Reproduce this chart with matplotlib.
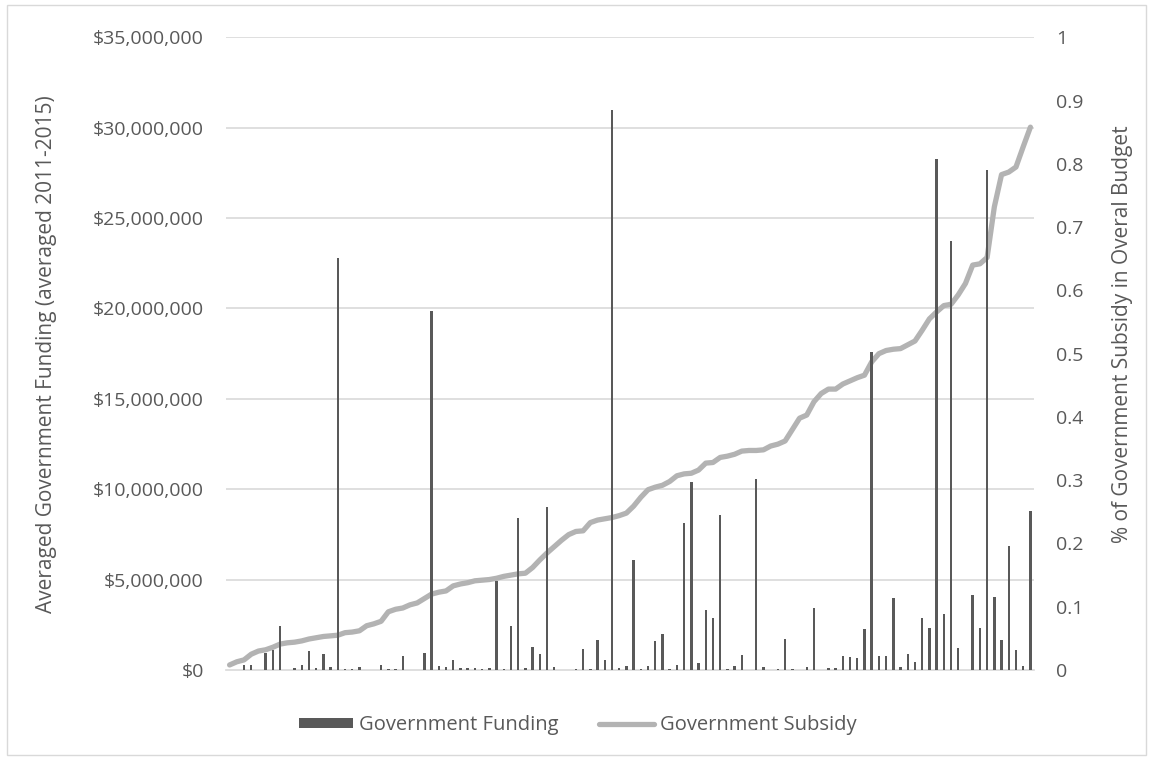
import numpy as np
import matplotlib.pyplot as plt
from matplotlib.patches import Patch, Rectangle
from matplotlib.lines import Line2D
from matplotlib.ticker import FuncFormatter

plt.rcParams['font.family'] = ['Open Sans', 'DejaVu Sans']

# averaged government funding per organisation, in millions of dollars
funding_m = [0, 0, 0.29, 0.25, 0, 0.93, 1.08, 2.44, 0, 0.12,
             0.25, 1.06, 0.12, 0.86, 0.18, 22.79, 0.03, 0.03, 0.15, 0,
             0, 0.25, 0.05, 0.04, 0.75, 0, 0, 0.95, 19.84, 0.23,
             0.16, 0.56, 0.10, 0.12, 0.10, 0.04, 0.12, 4.90, 0.06, 2.46,
             8.40, 0.12, 1.25, 0.86, 9.04, 0.18, 0, 0, 0.03, 1.17,
             0.06, 1.67, 0.58, 30.99, 0.12, 0.20, 6.10, 0.03, 0.23, 1.63,
             2.00, 0.05, 0.27, 8.14, 10.41, 0.38, 3.33, 2.90, 8.56, 0.05,
             0.22, 0.84, 0, 10.56, 0.15, 0, 0.05, 1.72, 0.03, 0,
             0.15, 3.44, 0, 0.12, 0.12, 0.75, 0.70, 0.66, 2.27, 17.60,
             0.75, 0.79, 3.97, 0.15, 0.90, 0.42, 2.87, 2.35, 28.26, 3.10,
             23.74, 1.23, 0.02, 4.14, 2.33, 27.65, 4.06, 1.67, 6.87, 1.08,
             0.23, 8.78]

# share of the overall budget that is government subsidy
subsidy = [0.008, 0.013, 0.016, 0.025, 0.030, 0.032, 0.036, 0.041, 0.043, 0.044,
           0.046, 0.049, 0.051, 0.053, 0.054, 0.055, 0.059, 0.060, 0.062, 0.070,
           0.073, 0.077, 0.092, 0.096, 0.098, 0.103, 0.106, 0.113, 0.120, 0.123,
           0.125, 0.133, 0.136, 0.138, 0.141, 0.142, 0.143, 0.145, 0.148, 0.150,
           0.152, 0.153, 0.162, 0.174, 0.185, 0.195, 0.205, 0.214, 0.219, 0.220,
           0.233, 0.237, 0.239, 0.241, 0.244, 0.248, 0.259, 0.273, 0.285, 0.289,
           0.292, 0.298, 0.307, 0.310, 0.311, 0.316, 0.327, 0.328, 0.336, 0.338,
           0.341, 0.346, 0.347, 0.347, 0.348, 0.354, 0.357, 0.362, 0.380, 0.398,
           0.403, 0.424, 0.437, 0.444, 0.444, 0.452, 0.457, 0.462, 0.466, 0.487,
           0.500, 0.505, 0.507, 0.508, 0.514, 0.520, 0.537, 0.555, 0.566, 0.576,
           0.578, 0.593, 0.611, 0.640, 0.642, 0.652, 0.732, 0.783, 0.787, 0.795,
           0.827, 0.858]

left_ticks = [0, 5e6, 10e6, 15e6, 20e6, 25e6, 30e6, 35e6]
right_ticks = [0, 0.1, 0.2, 0.3, 0.4, 0.5, 0.6, 0.7, 0.8, 0.9, 1]

bar_col = '#595959'
line_col = '#B3B3B3'
grid_col = '#D9D9D9'
text_col = '#595959'

funding = np.array(funding_m) * 1e6
x = np.arange(len(funding))

fig = plt.figure(figsize=(11.53, 7.6), dpi=100)
fig.patches.append(Rectangle((0.006, 0.007), 0.988, 0.986, transform=fig.transFigure,
                             fill=False, edgecolor=grid_col, linewidth=1))

ax = fig.add_axes([0.196, 0.1184, 0.7008, 0.8325])
ax2 = ax.twinx()
# bars sit above the subsidy line, so the secondary axes goes underneath
ax.set_zorder(2)
ax2.set_zorder(1)
ax.patch.set_visible(False)

# gridlines follow the dollar axis, drawn on the lower axes
for t in left_ticks[1:]:
    ax2.axhline(t / 35e6, color=grid_col, linewidth=1.2, zorder=0)

ax2.plot(x, subsidy, color=line_col, linewidth=3.8, solid_capstyle='round', zorder=2)
ax.bar(x, funding, width=0.33, color=bar_col, zorder=3)

ax.set_xlim(-0.5, len(x) - 0.5)
ax.set_ylim(0, 35e6)
ax2.set_ylim(0, 1)
ax.set_yticks(left_ticks)
ax2.set_yticks(right_ticks)
ax.yaxis.set_major_formatter(FuncFormatter(lambda v, p: f"${v:,.0f}"))
ax2.yaxis.set_major_formatter(FuncFormatter(lambda v, p: f"{v:g}"))
ax.set_xticks([])

for a in (ax, ax2):
    for s in a.spines.values():
        s.set_visible(False)
    a.tick_params(axis='y', length=0, labelsize=14, labelcolor=text_col)
ax.spines['bottom'].set_visible(True)
ax.spines['bottom'].set_color(grid_col)
ax.spines['bottom'].set_linewidth(1.2)
ax.tick_params(axis='y', pad=16)
ax2.tick_params(axis='y', pad=16)

ax.set_ylabel("Averaged Government Funding (averaged 2011-2015)", fontsize=15,
              color=text_col)
ax2.set_ylabel("% of Government Subsidy in Overal Budget", fontsize=15,
               color=text_col, rotation=90)
ax.yaxis.set_label_coords(-0.209, 0.5)
ax2.yaxis.set_label_coords(1.0965, 0.53)

handles = [Patch(facecolor=bar_col, edgecolor='none'),
           Line2D([0], [0], color=line_col, linewidth=3.8, solid_capstyle='round')]
fig.legend(handles, ["Government Funding", "Government Subsidy"], loc='center',
           bbox_to_anchor=(0.501, 0.046), ncol=2, frameon=False, fontsize=14.5,
           labelcolor=text_col, handlelength=2.7, handleheight=0.42,
           handletextpad=0.3, columnspacing=2.0)

fig.savefig("out.png", dpi=100)
